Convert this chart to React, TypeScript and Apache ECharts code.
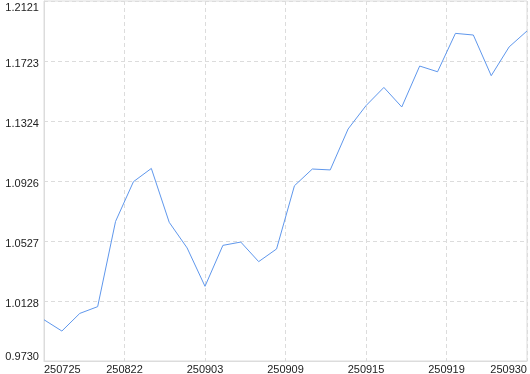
import React, { useEffect, useRef } from "react";
import * as echarts from "echarts";

const seriesValues = [
  1.0004, 0.9929, 1.0046, 1.0091, 1.0657, 1.0921, 1.1009, 1.0651, 1.0481, 1.0226,
  1.0498, 1.052, 1.039, 1.0474, 1.0894, 1.1005, 1.0999, 1.1271, 1.1426, 1.1547,
  1.1417, 1.1689, 1.1651, 1.1906, 1.1895, 1.1625, 1.1816, 1.1922,
];
const xTickLabels = ["250725", "250822", "250903", "250909", "250915", "250919", "250930"];
const yTickLabels = ["0.9730", "1.0128", "1.0527", "1.0926", "1.1324", "1.1723", "1.2121"];
const yMin = 0.973;
const yMax = 1.2121;

export default function App() {
  const ref = useRef<HTMLDivElement>(null);
  useEffect(() => {
    if (!ref.current) return;
    const chart = echarts.init(ref.current, undefined, { renderer: "svg" });
    const lastIdx = seriesValues.length - 1;
    const xInterval = lastIdx / (xTickLabels.length - 1);
    const font = "Liberation Sans";
    chart.setOption({
      animation: false,
      grid: {
        left: 44,
        right: 2,
        top: 1,
        bottom: 13,
        show: true,
        borderColor: "#dcdcdc",
        borderWidth: 1,
      },
      xAxis: {
        type: "value",
        min: 0,
        max: lastIdx,
        interval: xInterval,
        axisLine: { show: true, lineStyle: { color: "#dcdcdc" } },
        axisTick: { show: false },
        splitLine: { show: true, lineStyle: { color: "#dcdcdc", type: [4, 3] } },
        axisLabel: {
          color: "#222",
          fontFamily: font,
          fontSize: 11,
          margin: 2,
          alignMinLabel: "left",
          alignMaxLabel: "right",
          formatter: (v: number) => xTickLabels[Math.round(v / xInterval)] ?? "",
        },
      },
      yAxis: [
        {
          type: "value",
          min: yMin,
          max: yMax,
          show: false,
          splitLine: { show: false },
        },
        {
          type: "value",
          min: 0,
          max: yTickLabels.length - 1,
          interval: 1,
          position: "left",
          axisLine: { show: true, lineStyle: { color: "#dcdcdc" } },
          axisTick: { show: false },
          splitLine: { show: true, lineStyle: { color: "#dcdcdc", type: [4, 3] } },
          axisLabel: {
            color: "#222",
            fontFamily: font,
            fontSize: 11,
            margin: 5,
            verticalAlignMinLabel: "bottom",
            verticalAlignMaxLabel: "top",
            formatter: (v: number) => {
              const i = Math.round(v);
              const s = yTickLabels[i] ?? "";
              if (i === 0 || i === yTickLabels.length - 1) return s;
              return "{m|" + s + "}";
            },
            rich: {
              m: {
                color: "#222",
                fontFamily: font,
                fontSize: 11,
                padding: [4, 0, 0, 0],
              },
            },
          },
        },
      ],
      series: [
        {
          type: "line",
          yAxisIndex: 0,
          data: seriesValues.map((v, i) => [i, v]),
          symbol: "none",
          lineStyle: { color: "#5f97ec", width: 1 },
        },
      ],
    });
    return () => chart.dispose();
  }, []);
  return (
    <div
      ref={ref}
      style={{ position: "fixed", left: 0, top: 0, width: 530, height: 374 }}
    />
  );
}
